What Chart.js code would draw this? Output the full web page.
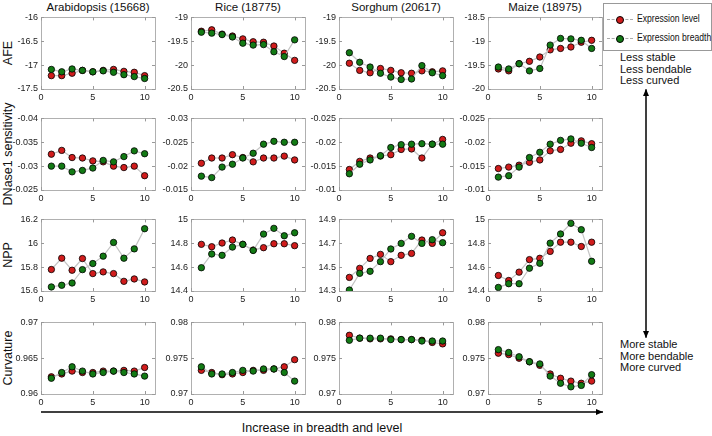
<!DOCTYPE html>
<html lang="en">
<head>
  <meta charset="UTF-8" />
  <title>Expression level vs breadth</title>
  <script src="https://cdn.jsdelivr.net/npm/chart.js"></script>
  <style>
    body { margin: 0; background: #fff; font-family: "Liberation Sans", Arial, sans-serif; color: #111; }
    #page { position: relative; width: 712px; height: 436px; overflow: hidden; }
    .panel { position: absolute; }
    .title { position: absolute; font-size: 11.5px; transform: translate(-50%, -50%); white-space: nowrap; }
    .ylab { position: absolute; font-size: 12.5px; transform: translate(-50%, -50%) rotate(-90deg); white-space: nowrap; }
    .note { position: absolute; font-size: 11px; line-height: 11.7px; }
    #legend { position: absolute; left: 603px; top: 3px; width: 107px; height: 46px; border: 1px solid #999; background: #fff; font-size: 10.5px; }
    .leg { position: absolute; left: 3px; height: 14px; }
    .leg .ln { position: absolute; left: 0; top: 7px; width: 26px; border-top: 1px dashed #aaa; }
    .leg .dot { position: absolute; left: 9px; top: 3.5px; width: 6px; height: 6px; border-radius: 50%; border: 1px solid #000; }
    .leg span.t { position: absolute; left: 30px; top: 0px; white-space: nowrap; transform: scaleX(0.82); transform-origin: left center; }
    #xlab { position: absolute; left: 322px; top: 428px; font-size: 12.5px; transform: translate(-50%, -50%); white-space: nowrap; }
    svg { position: absolute; left: 0; top: 0; }
  </style>
</head>
<body>
<div id="page">
  <div id="legend">
    <div class="leg" style="top:8px"><div class="ln"></div><div class="dot" style="background:#d01c1c"></div><span class="t">Expression level</span></div>
    <div class="leg" style="top:27px"><div class="ln"></div><div class="dot" style="background:#127a14"></div><span class="t">Expression breadth</span></div>
  </div>
  <div class="note" style="left:620px; top:52px">Less stable<br>Less bendable<br>Less curved</div>
  <div class="note" style="left:620px; top:339px">More stable<br>More bendable<br>More curved</div>
  <div id="xlab">Increase in breadth and level</div>
  <svg width="712" height="436">
    <defs>
      <marker id="ah" markerWidth="8" markerHeight="8" refX="7" refY="4" orient="auto" markerUnits="userSpaceOnUse">
        <path d="M0,1 L7,4 L0,7 z" fill="#000" />
      </marker>
    </defs>
    <line x1="646" y1="337" x2="646" y2="89" stroke="#000" stroke-width="1" marker-end="url(#ah)" />
    <line x1="646" y1="90" x2="646" y2="338" stroke="#000" stroke-width="1" marker-end="url(#ah)" />
    <line x1="41" y1="412" x2="603" y2="412" stroke="#000" stroke-width="1.3" marker-end="url(#ah)" />
  </svg>
</div>

<script>
  // categories
  const species = ['Arabidopsis (15668)', 'Rice (18775)', 'Sorghum (20617)', 'Maize (18975)'];
  const measures = ['AFE', 'DNase1 sensitivity', 'NPP', 'Curvature'];
  const bins = [1, 2, 3, 4, 5, 6, 7, 8, 9, 10];
  const xTicks = [0, 5, 10];

  // AFE (rows: Arabidopsis, Rice, Sorghum, Maize)
  const afeLevel = [
    [-17.22, -17.22, -17.17, -17.11, -17.14, -17.11, -17.09, -17.13, -17.15, -17.22],
    [-19.29, -19.26, -19.35, -19.39, -19.45, -19.51, -19.52, -19.60, -19.75, -19.90],
    [-19.96, -20.11, -20.16, -20.07, -20.11, -20.16, -20.17, -20.12, -20.14, -20.12],
    [-19.58, -19.62, -19.47, -19.42, -19.33, -19.18, -19.15, -19.12, -19.02, -18.98]
  ];
  const afeBreadth = [
    [-17.09, -17.14, -17.08, -17.11, -17.14, -17.12, -17.15, -17.20, -17.24, -17.28],
    [-19.31, -19.33, -19.36, -19.41, -19.54, -19.58, -19.57, -19.72, -19.82, -19.47],
    [-19.74, -19.94, -20.04, -20.17, -20.25, -20.30, -20.29, -20.01, -20.16, -20.22],
    [-19.54, -19.58, -19.47, -19.62, -19.57, -19.08, -18.94, -18.95, -18.98, -19.15]
  ];

  // DNase1 sensitivity
  const dnaseLevel = [
    [-0.0325, -0.0333, -0.0318, -0.0317, -0.0311, -0.0309, -0.0300, -0.0297, -0.0300, -0.0280],
    [-0.0206, -0.0217, -0.0217, -0.0224, -0.0218, -0.0209, -0.0217, -0.0217, -0.0221, -0.0213],
    [-0.0143, -0.0160, -0.0167, -0.0171, -0.0174, -0.0185, -0.0186, -0.0167, -0.0196, -0.0206],
    [-0.0145, -0.0148, -0.0152, -0.0158, -0.0163, -0.0182, -0.0185, -0.0198, -0.0203, -0.0197]
  ];
  const dnaseBreadth = [
    [-0.0300, -0.0300, -0.0288, -0.0291, -0.0296, -0.0312, -0.0309, -0.0320, -0.0332, -0.0326],
    [-0.0179, -0.0176, -0.0198, -0.0204, -0.0217, -0.0227, -0.0246, -0.0252, -0.0250, -0.0250],
    [-0.0134, -0.0154, -0.0163, -0.0172, -0.0189, -0.0195, -0.0196, -0.0197, -0.0196, -0.0196],
    [-0.0127, -0.0130, -0.0148, -0.0168, -0.0179, -0.0196, -0.0204, -0.0207, -0.0198, -0.0189]
  ];

  // NPP
  const nppLevel = [
    [15.78, 15.875, 15.774, 15.872, 15.746, 15.76, 15.746, 15.681, 15.701, 15.676],
    [14.791, 14.771, 14.802, 14.827, 14.791, 14.743, 14.763, 14.796, 14.796, 14.78],
    [14.414, 14.49, 14.573, 14.607, 14.546, 14.599, 14.615, 14.727, 14.699, 14.788],
    [14.53, 14.488, 14.558, 14.663, 14.674, 14.732, 14.809, 14.809, 14.773, 14.809]
  ];
  const nppBreadth = [
    [15.634, 15.648, 15.667, 15.779, 15.83, 15.892, 16.007, 15.875, 15.953, 16.122],
    [14.595, 14.71, 14.699, 14.768, 14.791, 14.74, 14.877, 14.925, 14.863, 14.888],
    [14.308, 14.448, 14.465, 14.546, 14.652, 14.699, 14.758, 14.699, 14.73, 14.705],
    [14.43, 14.461, 14.461, 14.591, 14.632, 14.801, 14.878, 14.967, 14.914, 14.649]
  ];

  // Curvature
  const curvLevel = [
    [0.9624, 0.9628, 0.9632, 0.9630, 0.9630, 0.9632, 0.9632, 0.9633, 0.9632, 0.9637],
    [0.9733, 0.9730, 0.9727, 0.9728, 0.9730, 0.9733, 0.9733, 0.9735, 0.9738, 0.9748],
    [0.9782, 0.9778, 0.9777, 0.9777, 0.9777, 0.9776, 0.9776, 0.9775, 0.9772, 0.9770],
    [0.9757, 0.9755, 0.9750, 0.9745, 0.9740, 0.9728, 0.9722, 0.9718, 0.9715, 0.9718]
  ];
  const curvBreadth = [
    [0.9622, 0.9630, 0.9638, 0.9632, 0.9628, 0.9630, 0.9632, 0.9630, 0.9628, 0.9625],
    [0.9738, 0.9728, 0.9728, 0.9730, 0.9733, 0.9732, 0.9735, 0.9735, 0.9730, 0.9718],
    [0.9775, 0.9778, 0.9778, 0.9778, 0.9776, 0.9776, 0.9776, 0.9774, 0.9774, 0.9774],
    [0.9762, 0.9758, 0.9752, 0.9745, 0.9742, 0.9725, 0.9715, 0.9710, 0.9712, 0.9727]
  ];

  // y tick labels per panel
  const afeTicks = [[-17.5, -17, -16.5, -16], [-20.5, -20, -19.5, -19], [-20.5, -20, -19.5, -19], [-20, -19.5, -19, -18.5]];
  const dnaseTicks = [[-0.04, -0.035, -0.03, -0.025], [-0.03, -0.025, -0.02, -0.015], [-0.025, -0.02, -0.015, -0.01], [-0.025, -0.02, -0.015, -0.01]];
  const nppTicks = [[15.6, 15.8, 16, 16.2], [14.4, 14.6, 14.8, 15], [14.3, 14.5, 14.7, 14.9], [14.4, 14.6, 14.8, 15]];
  const curvTicks = [[0.96, 0.965, 0.97], [0.97, 0.975, 0.98], [0.97, 0.975, 0.98], [0.97, 0.975, 0.98]];

  const rows = [
    { level: afeLevel, breadth: afeBreadth, ticks: afeTicks, reverse: false },
    { level: dnaseLevel, breadth: dnaseBreadth, ticks: dnaseTicks, reverse: true },
    { level: nppLevel, breadth: nppBreadth, ticks: nppTicks, reverse: false },
    { level: curvLevel, breadth: curvBreadth, ticks: curvTicks, reverse: false }
  ];

  const colLeft = [41, 191, 339, 488];
  const rowTop = [17, 118, 219, 322];
  const plotW = 114, plotH = 72;
  const yAxisW = 40, xAxisH = 18, padTop = 8, padRight = 8;

  const RED = '#d01c1c', GREEN = '#127a14', LINE = '#c4c4c4';

  Chart.defaults.font.family = '"Liberation Sans", Arial, sans-serif';
  Chart.defaults.font.size = 9;
  Chart.defaults.color = '#222';

  // matlab-like box with inward tick marks
  const boxPlugin = {
    id: 'box',
    beforeDatasetsDraw(chart) {
      const a = chart.chartArea, ctx = chart.ctx;
      ctx.save();
      ctx.strokeStyle = '#b0b0b0';
      ctx.lineWidth = 1;
      ctx.strokeRect(Math.round(a.left) + 0.5, Math.round(a.top) + 0.5, Math.round(a.right - a.left), Math.round(a.bottom - a.top));
      ctx.strokeStyle = '#999';
      chart.scales.x.ticks.forEach(t => {
        const px = Math.round(chart.scales.x.getPixelForValue(t.value)) + 0.5;
        ctx.beginPath();
        ctx.moveTo(px, a.bottom); ctx.lineTo(px, a.bottom - 3);
        ctx.moveTo(px, a.top); ctx.lineTo(px, a.top + 3);
        ctx.stroke();
      });
      chart.scales.y.ticks.forEach(t => {
        const py = Math.round(chart.scales.y.getPixelForValue(t.value)) + 0.5;
        ctx.beginPath();
        ctx.moveTo(a.left, py); ctx.lineTo(a.left + 3, py);
        ctx.moveTo(a.right, py); ctx.lineTo(a.right - 3, py);
        ctx.stroke();
      });
      ctx.restore();
    }
  };

  function fmt(v) {
    return String(+v.toFixed(4));
  }

  const page = document.getElementById('page');

  species.forEach((name, c) => {
    const t = document.createElement('div');
    t.className = 'title';
    t.style.left = (colLeft[c] + plotW / 2) + 'px';
    t.style.top = '7px';
    t.textContent = name;
    page.appendChild(t);
  });

  measures.forEach((m, r) => {
    const d = document.createElement('div');
    d.className = 'ylab';
    d.style.left = '8px';
    d.style.top = (rowTop[r] + plotH / 2) + 'px';
    d.textContent = m;
    page.appendChild(d);
  });

  rows.forEach((row, r) => {
    species.forEach((name, c) => {
      const holder = document.createElement('div');
      holder.className = 'panel';
      const w = yAxisW + plotW + padRight, h = padTop + plotH + xAxisH;
      holder.style.left = (colLeft[c] - yAxisW) + 'px';
      holder.style.top = (rowTop[r] - padTop) + 'px';
      holder.style.width = w + 'px';
      holder.style.height = h + 'px';
      const cv = document.createElement('canvas');
      holder.appendChild(cv);
      page.appendChild(holder);

      const ticks = row.ticks[c];
      new Chart(cv, {
        type: 'line',
        data: {
          datasets: [
            {
              label: 'Expression breadth',
              data: bins.map((x, i) => ({ x: x, y: row.breadth[c][i] })),
              borderColor: LINE, borderWidth: 1.2,
              pointBackgroundColor: GREEN, pointBorderColor: '#000', pointBorderWidth: 0.8,
              pointRadius: 3.2, order: 0
            },
            {
              label: 'Expression level',
              data: bins.map((x, i) => ({ x: x, y: row.level[c][i] })),
              borderColor: LINE, borderWidth: 1.2,
              pointBackgroundColor: RED, pointBorderColor: '#000', pointBorderWidth: 0.8,
              pointRadius: 3.2, order: 1
            }
          ]
        },
        options: {
          responsive: true,
          maintainAspectRatio: false,
          animation: false,
          layout: { padding: { top: padTop, right: padRight, left: 0, bottom: 0 } },
          plugins: { legend: { display: false }, tooltip: { enabled: false } },
          scales: {
            x: {
              type: 'linear', min: 0, max: 11,
              afterBuildTicks: s => { s.ticks = xTicks.map(v => ({ value: v })); },
              afterFit: s => { s.height = xAxisH; },
              grid: { display: false, drawTicks: false },
              border: { display: false },
              ticks: { padding: 3, maxRotation: 0, callback: v => fmt(v) }
            },
            y: {
              type: 'linear', min: ticks[0], max: ticks[ticks.length - 1], reverse: row.reverse,
              afterBuildTicks: s => { s.ticks = ticks.map(v => ({ value: v })); },
              afterFit: s => { s.width = yAxisW; },
              grid: { display: false, drawTicks: false },
              border: { display: false },
              ticks: { padding: 3, callback: v => fmt(v) }
            }
          }
        },
        plugins: [boxPlugin]
      });
    });
  });
</script>
</body>
</html>
